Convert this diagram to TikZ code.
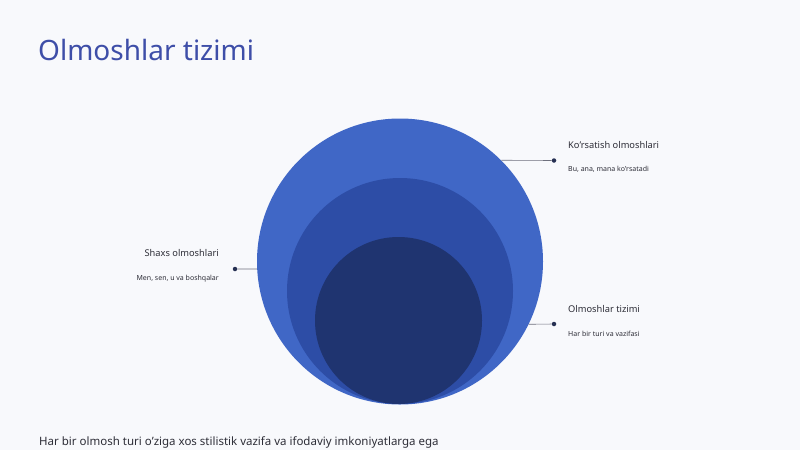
\documentclass[tikz,border=0pt]{standalone}
\usepackage{fontspec}
\setmainfont{Noto Sans}
\usetikzlibrary{positioning}

\definecolor{pagebg}{RGB}{248,249,252}
\definecolor{titleblue}{RGB}{62,78,168}
\definecolor{outerblue}{RGB}{64,103,198}
\definecolor{middleblue}{RGB}{45,77,166}
\definecolor{innerblue}{RGB}{31,52,112}
\definecolor{linegray}{RGB}{110,112,125}
\definecolor{dotnavy}{RGB}{38,48,82}
\definecolor{textdark}{RGB}{45,45,55}

\tikzset{
  ring/.style={circle, inner sep=0pt},
  head/.style={font=\fontsize{9.3}{11}\selectfont, text=textdark, inner sep=0pt},
  desc/.style={font=\fontsize{7}{8}\selectfont, text=textdark, inner sep=0pt},
  pin/.style={circle, fill=dotnavy, inner sep=0pt, minimum size=4.5pt},
  leader/.style={draw=linegray, line width=.6pt}
}

\begin{document}
\begin{tikzpicture}[x=1pt, y=-1pt]
				\useasboundingbox[fill=pagebg] (0,0) rectangle (800,450);
				\node[anchor=west, inner sep=0pt, text=titleblue, font=\fontsize{28}{32}\selectfont] (title) at (38,50) {Olmoshlar tizimi};
				
				\node[ring, fill=outerblue, minimum size=286pt] (outer) at (400,261.5) {};
				\node[ring, fill=middleblue, minimum size=226pt] (middle) at (400,291) {};
				\node[ring, fill=innerblue, minimum size=167pt] (inner) at (398.5,320.5) {};
				
				\node[pin] (p1) at (554,160.5) {};
				\node[pin] (p2) at (554,324) {};
				\node[pin] (p3) at (235,269) {};
				
				\node[head, anchor=west] (h1) at (568,145) {Ko'rsatish olmoshlari};
				\node[desc, below=20.5pt of h1.west, anchor=north west] (d1) {Bu, ana, mana ko'rsatadi};
				\node[head, anchor=west] (h2) at (568,309) {Olmoshlar tizimi};
				\node[desc, below=21.5pt of h2.west, anchor=north west] (d2) {Har bir turi va vazifasi};
				\node[head, anchor=east] (h3) at (219,253) {Shaxs olmoshlari};
				\node[desc, below=21.5pt of h3.east, anchor=north east] (d3) {Men, sen, u va boshqalar};
				
				\draw[leader] (outer.45) -- (p1);
				\draw[leader] (outer.-26) -- (p2);
				\draw[leader] (outer.183) -- (p3);
				
				\node[anchor=west, inner sep=0pt, text=textdark, font=\fontsize{11.5}{14}\selectfont] (note) at (39,442) {Har bir olmosh turi o'ziga xos stilistik vazifa va ifodaviy imkoniyatlarga ega};
				\end{tikzpicture}
\end{document}
